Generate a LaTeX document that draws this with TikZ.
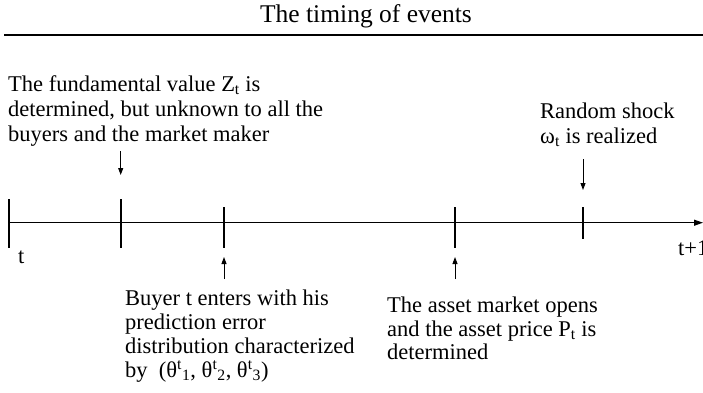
\documentclass[tikz,border=0pt]{standalone}
\usepackage{fontspec}
\setmainfont{Liberation Serif}
\usetikzlibrary{arrows.meta}
\begin{document}
\begin{tikzpicture}[x=1pt,y=-1pt,
  txt/.style={anchor=base west,inner sep=0pt,font=\fontsize{22.5}{27}\selectfont},
  ticmark/.style={line width=1.8pt},
  evarrow/.style={line width=0.9pt,-{Triangle[length=7pt,width=5pt]}},
  axisline/.style={line width=1.1pt,-{Triangle[length=9pt,width=6pt]}}]
\useasboundingbox (0,0) rectangle (703,392);
% title and rule
\node[anchor=base,inner sep=0pt,font=\fontsize{25.5}{30}\selectfont] (title) at (366,22) {The timing of events};
\coordinate (r0) at (4,35);
\coordinate (r1) at (703,35);
\draw[line width=1.6pt] (r0) -- (r1);
% axis
\coordinate (a0) at (9,222.7);
\coordinate (a1) at (703,222.7);
\draw[axisline] (a0) -- (a1);
\draw[ticmark] (9,199) -- (9,248);
\draw[ticmark] (120.7,199) -- (120.7,248);
\draw[ticmark] (224,207) -- (224,248);
\draw[ticmark] (455,207) -- (455,248);
\draw[ticmark] (583,207) -- (583,239);
\node[txt] (lt) at (18,263) {t};
\node[txt] (lt1) at (678,255) {t+1};
% top left
\node[txt] (z1) at (8,91) {The fundamental value Z\textsubscript{t} is};
\node[txt] (z2) at (8,116) {determined, but unknown to all the};
\node[txt] (z3) at (8,141) {buyers and the market maker};
% top right
\node[txt] (w1) at (540,118) {Random shock};
\node[txt] (w2) at (540,143) {ω\textsubscript{t} is realized};
% bottom left
\node[txt] (b1) at (125,305) {Buyer t enters with his};
\node[txt] (b2) at (125,329) {prediction error};
\node[txt] (b3) at (125,353) {distribution characterized};
\node[txt] (b4) at (125,377) {by\ \ (θ\textsuperscript{t}\textsubscript{1}, θ\textsuperscript{t}\textsubscript{2}, θ\textsuperscript{t}\textsubscript{3})};
% bottom right
\node[txt] (p1) at (387,312) {The asset market opens};
\node[txt] (p2) at (387,336) {and the asset price P\textsubscript{t} is};
\node[txt] (p3) at (387,359) {determined};
% event arrows
\coordinate (d1s) at (120.7,151);
\coordinate (d1e) at (120.7,175);
\coordinate (d2s) at (583,159);
\coordinate (d2e) at (583,190);
\coordinate (u1s) at (224,279);
\coordinate (u1e) at (224,257);
\coordinate (u2s) at (455,279);
\coordinate (u2e) at (455,257);
\draw[evarrow] (d1s) -- (d1e);
\draw[evarrow] (d2s) -- (d2e);
\draw[evarrow] (u1s) -- (u1e);
\draw[evarrow] (u2s) -- (u2e);
\end{tikzpicture}
\end{document}
